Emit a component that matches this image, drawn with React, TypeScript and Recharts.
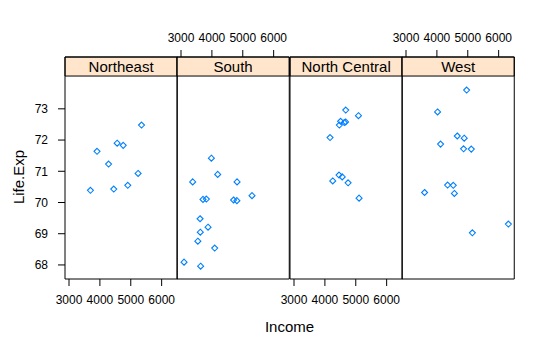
import React from 'react';
import {
  ScatterChart,
  Scatter,
  XAxis,
  YAxis,
  ReferenceArea,
} from 'recharts';

// state.x77 by region: Income vs Life.Exp
const regions = ['Northeast', 'South', 'North Central', 'West'];

const northeastIncome = [5348, 3694, 4755, 4281, 4558, 3907, 5237, 4903, 4449];
const northeastLife = [72.48, 70.39, 71.83, 71.23, 71.9, 71.64, 70.93, 70.55, 70.43];

const southIncome = [3624, 3378, 4809, 4815, 4091, 3712, 3545, 5299, 3098, 3875, 3983, 3635, 3821, 4188, 4701, 3617];
const southLife = [69.05, 70.66, 70.06, 70.66, 68.54, 70.1, 68.76, 70.22, 68.09, 69.21, 71.42, 67.96, 70.11, 70.9, 70.08, 69.48];

const northCentralIncome = [5107, 4458, 4628, 4669, 4751, 4675, 4254, 4508, 5087, 4561, 4167, 4468];
const northCentralLife = [70.14, 70.88, 72.56, 72.58, 70.63, 72.96, 70.69, 72.6, 72.78, 70.82, 72.08, 72.48];

const westIncome = [6315, 4530, 5114, 4884, 4963, 4119, 4347, 5149, 3601, 4660, 4022, 4864, 4566];
const westLife = [69.31, 70.55, 71.71, 72.06, 73.6, 71.87, 70.56, 69.03, 70.32, 72.13, 72.9, 71.72, 70.29];

const xTicks = [3000, 4000, 5000, 6000];
const yTicks = [68, 69, 70, 71, 72, 73];

const incomes = [northeastIncome, southIncome, northCentralIncome, westIncome];
const lifes = [northeastLife, southLife, northCentralLife, westLife];

const X_DOMAIN: [number, number] = [2870, 6505];
const PANEL_TOP = 74.05; // top of panel, strip above
const Y_DOMAIN: [number, number] = [67.55, 74.66];

const PANEL_LEFT = 65;
const PANEL_W = 112.25;
const LEFT_W = 65;
const RIGHT_W = 39;
const FONT = '"Liberation Sans", Arial, sans-serif';
const SYMBOL = '#0080ff';

const Diamond = (props: any) => {
  const { cx, cy } = props;
  const r = 3;
  return (
    <path
      d={`M${cx},${cy - r}L${cx + r},${cy}L${cx},${cy + r}L${cx - r},${cy}Z`}
      fill="none"
      stroke={SYMBOL}
      strokeWidth={1.1}
    />
  );
};

const Nothing = () => <g />;

const Panel = ({ idx }: { idx: number }) => {
  const data = incomes[idx].map((v, k) => ({ income: v, life: lifes[idx][k] }));
  const tickStyle = { fill: '#000', fontSize: 12, fontFamily: FONT };
  const first = idx === 0;
  const last = idx === regions.length - 1;
  const bottomLabels = idx % 2 === 0;
  const topLabels = idx % 2 === 1;

  return (
    <div
      style={{
        position: 'absolute',
        left: PANEL_LEFT + idx * PANEL_W - LEFT_W,
        top: 0,
      }}
    >
      <ScatterChart
        width={LEFT_W + PANEL_W + RIGHT_W}
        height={350}
        margin={{ top: 0, right: 0, bottom: 0, left: 0 }}
      >
        <XAxis
          xAxisId="b"
          type="number"
          dataKey="income"
          domain={X_DOMAIN}
          allowDataOverflow
          ticks={xTicks}
          interval={0}
          orientation="bottom"
          height={71}
          tickSize={7}
          tickMargin={9}
          stroke="#000"
          axisLine={false}
          tick={bottomLabels ? tickStyle : false}
        />
        <XAxis
          xAxisId="t"
          type="number"
          dataKey="income"
          domain={X_DOMAIN}
          allowDataOverflow
          ticks={xTicks}
          interval={0}
          orientation="top"
          height={57}
          tickSize={7}
          tickMargin={8}
          stroke="#000"
          axisLine={false}
          tick={topLabels ? tickStyle : false}
        />
        <YAxis
          yAxisId="l"
          type="number"
          dataKey="life"
          domain={Y_DOMAIN}
          allowDataOverflow
          ticks={yTicks}
          interval={0}
          orientation="left"
          width={LEFT_W}
          tickSize={7}
          tickMargin={10}
          stroke="#000"
          axisLine={false}
          tickLine={first}
          tick={first ? tickStyle : false}
        />
        <YAxis
          yAxisId="r"
          type="number"
          dataKey="life"
          domain={Y_DOMAIN}
          allowDataOverflow
          ticks={yTicks}
          interval={0}
          orientation="right"
          width={RIGHT_W}
          tickSize={7}
          stroke="#000"
          axisLine={false}
          tickLine={last}
          tick={false}
        />
        <ReferenceArea
          xAxisId="b"
          yAxisId="l"
          x1={X_DOMAIN[0]}
          x2={X_DOMAIN[1]}
          y1={PANEL_TOP}
          y2={Y_DOMAIN[1]}
          fill="#ffe5cc"
          fillOpacity={1}
          stroke="#000"
          strokeOpacity={1}
          label={{
            value: regions[idx],
            position: 'center',
            fill: '#000',
            fontSize: 15,
            fontFamily: FONT,
          }}
        />
        <ReferenceArea
          xAxisId="b"
          yAxisId="l"
          x1={X_DOMAIN[0]}
          x2={X_DOMAIN[1]}
          y1={Y_DOMAIN[0]}
          y2={Y_DOMAIN[1]}
          fill="none"
          stroke="#000"
          strokeOpacity={1}
        />
        {/* invisible copy so the top and right axes get a domain */}
        <Scatter
          xAxisId="t"
          yAxisId="r"
          data={data}
          shape={Nothing}
          isAnimationActive={false}
        />
        <Scatter
          xAxisId="b"
          yAxisId="l"
          data={data}
          shape={Diamond}
          isAnimationActive={false}
        />
      </ScatterChart>
    </div>
  );
};

export default function App() {
  return (
    <div
      style={{
        position: 'absolute',
        left: 0,
        top: 0,
        width: 553,
        height: 350,
        background: '#fff',
        fontFamily: FONT,
      }}
    >
      {regions.map((r, i) => (
        <Panel key={r} idx={i} />
      ))}
      <div
        style={{
          position: 'absolute',
          left: PANEL_LEFT,
          width: PANEL_W * 4,
          top: 318,
          textAlign: 'center',
          fontSize: 15,
          color: '#000',
        }}
      >
        Income
      </div>
      <div
        style={{
          position: 'absolute',
          left: 18,
          top: 177,
          transform: 'translate(-50%, -50%) rotate(-90deg)',
          fontSize: 15,
          color: '#000',
          whiteSpace: 'nowrap',
        }}
      >
        Life.Exp
      </div>
    </div>
  );
}
